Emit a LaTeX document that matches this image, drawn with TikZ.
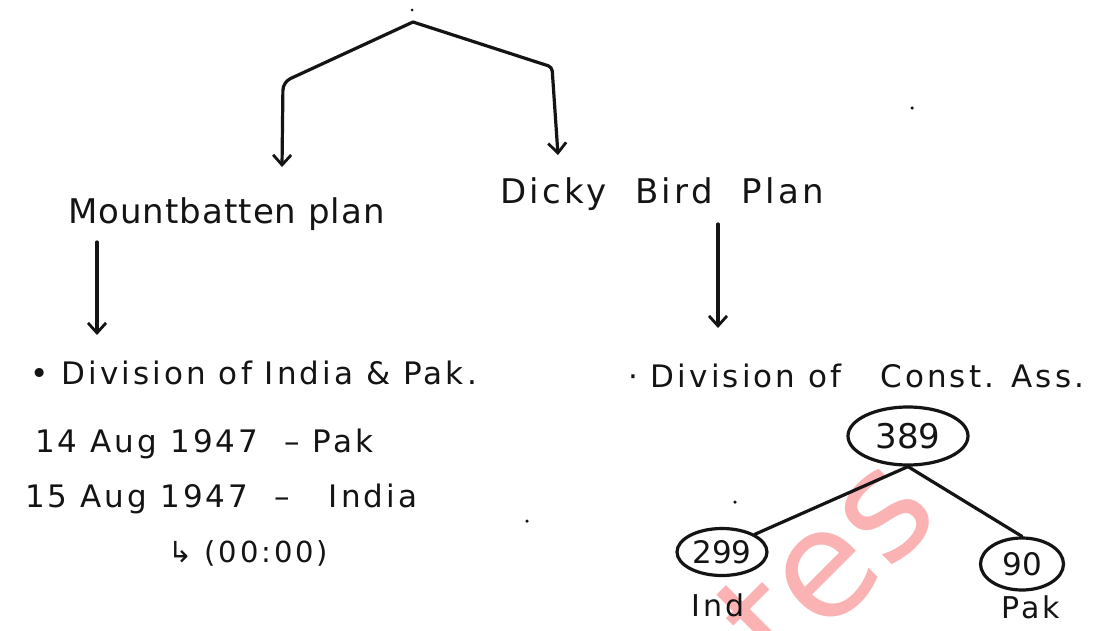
\documentclass[tikz,border=0pt]{standalone}
\usepackage{fontspec}
\setmainfont{DejaVu Sans}
\newfontfamily\handfont{DejaVu Sans}[LetterSpace=10]
\usetikzlibrary{arrows.meta,shapes.geometric}
\definecolor{ink}{RGB}{20,20,20}
\definecolor{wmark}{RGB}{250,178,178}
\tikzset{
  pen/.style={draw=ink, line width=3.2pt, line cap=round, line join=round},
  arr/.style={pen, -{Straight Barb[length=10pt,width=18pt,line width=2.8pt]}},
  head/.style={font=\handfont\fontsize{34}{38}\selectfont, text=ink, inner sep=0pt, anchor=base west},
  body/.style={font=\handfont\fontsize{31}{36}\selectfont, text=ink, inner sep=0pt, anchor=base west},
  label/.style={font=\handfont\fontsize{30}{34}\selectfont, text=ink, inner sep=0pt, anchor=center},
  oval/.style={ellipse, pen, inner sep=0pt, text=ink},
  speck/.style={fill=ink, circle, inner sep=0pt, minimum size=3.5pt},
}
\begin{document}
\begin{tikzpicture}[x=1pt, y=-1pt]
\useasboundingbox (0,0) rectangle (1117,630);
\fill[white] (0,0) rectangle (1117,630);

% faint watermark behind everything
\node[rotate=45, text=wmark, font=\fontsize{150}{150}\selectfont, inner sep=0pt] (wm) at (826,562) {tes};

% split at the top into the two plans
\coordinate (top) at (413,22);
\coordinate (lc) at (283,82);
\coordinate (rc) at (552,67);
\coordinate (lend) at (282,167);
\coordinate (rend) at (558,155);
\node[speck, minimum size=3pt] (tick) at (412,10) {};
\draw[arr, rounded corners=8pt] (top) -- (lc) -- (lend);
\draw[arr, rounded corners=4pt] (top) -- (rc) -- (rend);

% the two plans
\node[head, font=\handfont\addfontfeatures{LetterSpace=3}\fontsize{34}{38}\selectfont] (mb) at (68,223) {Mountbatten plan};
\node[head] (db) at (500,203) {Dicky \ Bird \ Plan};

% Mountbatten plan details
\coordinate (mbs) at (97,242);
\coordinate (mbe) at (97,335);
\draw[arr] (mbs) -- (mbe);
\node[body] (d1) at (30,384) {• Division of India \& Pak.};
\node[body] (d2) at (35,452) {14 Aug 1947 \ – Pak};
\node[body] (d3) at (25,507) {15 Aug 1947 \ – \ \ India};
\node[body, font=\handfont\fontsize{29}{34}\selectfont] (d4) at (168,562) {↳ (00:00)};

% Dicky Bird plan details
\coordinate (dbs) at (718,224);
\coordinate (dbe) at (718,328);
\draw[arr] (dbs) -- (dbe);
\node[body] (c1) at (628,387) {· Division of \ \ Const. Ass.};

% seats of the assembly
\node[oval, minimum width=120pt, minimum height=58pt, font=\fontsize{34}{38}\selectfont] (n389) at (908,436) {389};
\node[oval, minimum width=90pt, minimum height=47pt, font=\fontsize{31}{34}\selectfont] (n299) at (722,552) {299};
\node[oval, minimum width=83pt, minimum height=52pt, font=\fontsize{31}{34}\selectfont] (n90) at (1022,564) {90};
\draw[pen] (n389.south) -- (n299.north east);
\draw[pen] (n389.south) -- (n90.north);
\node[label] (ind) at (718,605) {Ind};
\node[label] (pak) at (1031,607) {Pak};

% stray specks on the page
\node[speck] (s1) at (912,108) {};
\node[speck] (s2) at (527,521) {};
\node[speck] (s3) at (735,502) {};
\end{tikzpicture}
\end{document}
